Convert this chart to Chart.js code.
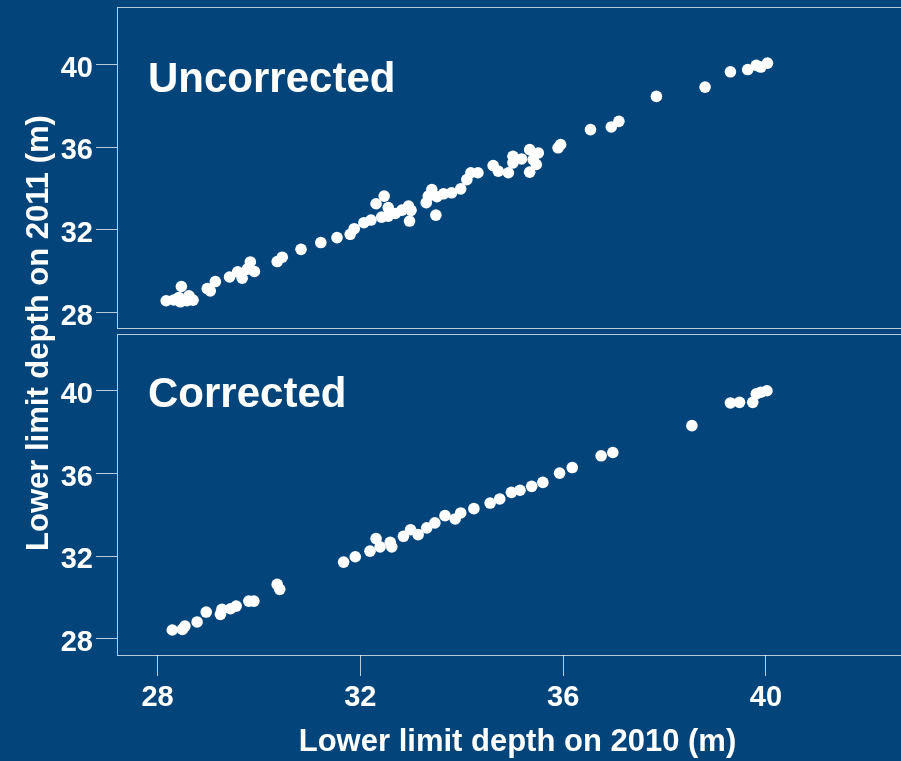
<!DOCTYPE html>
<html>
<head>
<meta charset="utf-8">
<script src="https://cdn.jsdelivr.net/npm/chart.js@4.4.1/dist/chart.umd.min.js"></script>
<style>
  html, body { margin: 0; padding: 0; background: #03457a; overflow: hidden; }
  #wrap { position: relative; width: 901px; height: 761px; overflow: hidden; }
  canvas { position: absolute; left: 0; top: 0; }
</style>
</head>
<body>
<div id="wrap">
  <canvas id="lower" width="920" height="761"></canvas>
  <canvas id="upper" width="920" height="331"></canvas>
</div>
<script>
// Lower limit depth (m), 2010 vs 2011, before and after correction
const uncorrected2010 = [28.17, 28.32, 28.42, 28.45, 28.47, 28.58, 28.62, 28.70, 28.98, 29.04,
  29.14, 29.42, 29.58, 29.67, 29.77, 29.83, 29.91, 30.36, 30.46, 30.83,
  31.22, 31.54, 31.80, 31.88, 32.07, 32.21, 32.31, 32.42, 32.47, 32.55,
  32.55, 32.69, 32.82, 32.95, 32.97, 33.00, 33.30, 33.34, 33.41, 33.49,
  33.51, 33.64, 33.80, 33.98, 34.10, 34.18, 34.32, 34.62, 34.72, 34.92,
  35.01, 35.01, 35.18, 35.34, 35.34, 35.41, 35.47, 35.51, 35.90, 35.95,
  36.54, 36.95, 37.10, 37.84, 38.80, 39.30, 39.64, 39.81, 39.90, 40.03];
const uncorrected2011 = [28.57, 28.61, 28.73, 28.52, 29.26, 28.57, 28.81, 28.60, 29.16, 29.05,
  29.50, 29.72, 29.97, 29.66, 30.10, 30.45, 29.99, 30.47, 30.68, 31.06,
  31.39, 31.63, 31.79, 32.06, 32.35, 32.48, 33.27, 32.62, 33.64, 33.08,
  32.67, 32.80, 32.96, 33.16, 32.43, 32.95, 33.32, 33.64, 33.96, 32.72,
  33.61, 33.75, 33.80, 33.99, 34.44, 34.77, 34.77, 35.12, 34.85, 34.77,
  35.25, 35.57, 35.44, 35.89, 34.80, 35.41, 35.17, 35.73, 35.98, 36.14,
  36.86, 36.99, 37.26, 38.47, 38.92, 39.66, 39.77, 39.97, 39.89, 40.08];

const corrected2010 = [28.29, 28.49, 28.54, 28.78, 28.96, 29.24, 29.27, 29.44, 29.55, 29.80,
  29.90, 30.36, 30.41, 31.67, 31.90, 32.19, 32.31, 32.39, 32.59, 32.62,
  32.85, 32.99, 33.14, 33.31, 33.47, 33.67, 33.87, 33.98, 34.24, 34.56,
  34.75, 34.98, 35.15, 35.38, 35.60, 35.93, 36.18, 36.75, 36.98, 38.54,
  39.30, 39.48, 39.74, 39.81, 39.90, 40.02];
const corrected2011 = [28.42, 28.45, 28.61, 28.81, 29.29, 29.18, 29.42, 29.45, 29.58, 29.82,
  29.82, 30.63, 30.39, 31.71, 31.97, 32.24, 32.85, 32.45, 32.67, 32.45,
  32.96, 33.28, 33.04, 33.37, 33.61, 33.96, 33.80, 34.09, 34.30, 34.57,
  34.77, 35.09, 35.19, 35.38, 35.57, 36.02, 36.29, 36.86, 37.02, 38.32,
  39.42, 39.45, 39.45, 39.86, 39.94, 40.01];

const panelNames = ['Uncorrected', 'Corrected'];
const xTicks = [28, 32, 36, 40];
const yTicks = [28, 32, 36, 40];
const xTitle = 'Lower limit depth on 2010 (m)';
const yTitle = 'Lower limit depth on 2011 (m)';

const FONT = "'Liberation Sans', Arial, sans-serif";
const LINE = 'rgba(255,255,255,0.72)';

function toPoints(xs, ys) {
  return xs.map((x, i) => ({ x: x, y: ys[i] }));
}

// Frame around the plotting area plus the panel name in its upper left
const panelPlugin = {
  id: 'panelFrame',
  beforeDatasetsDraw(chart, args, opts) {
    const { ctx, chartArea: a } = chart;
    ctx.save();
    ctx.strokeStyle = LINE;
    ctx.lineWidth = 1;
    ctx.strokeRect(a.left + 0.5, a.top + 0.5, a.right - a.left, a.bottom - a.top);
    ctx.fillStyle = '#ffffff';
    ctx.font = 'bold 42px ' + FONT;
    ctx.textAlign = 'left';
    ctx.textBaseline = 'alphabetic';
    ctx.fillText(opts.text, a.left + opts.dx, a.top + opts.dy);
    if (opts.yTitle) {
      ctx.translate(opts.yTitleX, opts.yTitleY);
      ctx.rotate(-Math.PI / 2);
      ctx.textAlign = 'center';
      ctx.textBaseline = 'middle';
      ctx.font = 'bold 31px ' + FONT;
      ctx.fillText(opts.yTitle, 0, 0);
    }
    ctx.restore();
  }
};

function yScale(min, max) {
  return {
    type: 'linear',
    min: min,
    max: max,
    afterFit(s) { s.width = 117; s.paddingTop = 0; s.paddingBottom = 0; },
    afterBuildTicks(s) { s.ticks = yTicks.map(v => ({ value: v })); },
    border: { display: false },
    grid: { drawOnChartArea: false, drawTicks: true, tickLength: 21, color: LINE, lineWidth: 1 },
    ticks: { color: '#ffffff', padding: 3, labelOffset: 4, font: { family: FONT, size: 29, weight: 'bold' } }
  };
}

function xScale(show) {
  return {
    type: 'linear',
    min: 27.2,
    max: 43,
    display: show,
    afterFit(s) {
      if (show) s.height = 106;
      s.paddingLeft = 0;
      s.paddingRight = 0;
    },
    afterBuildTicks(s) { s.ticks = xTicks.map(v => ({ value: v })); },
    border: { display: false },
    grid: { drawOnChartArea: false, drawTicks: true, tickLength: 21, color: LINE, lineWidth: 1 },
    ticks: { color: '#ffffff', padding: 5, maxRotation: 0, font: { family: FONT, size: 29, weight: 'bold' } },
    title: { display: show, text: xTitle, color: '#ffffff', padding: 0, font: { family: FONT, size: 31, weight: 'bold' } }
  };
}

function pointSet(xs, ys) {
  return {
    data: toPoints(xs, ys),
    backgroundColor: '#ffffff',
    borderWidth: 0,
    pointRadius: 5.8,
    pointHoverRadius: 5.8
  };
}

const common = {
  responsive: false,
  animation: false,
  devicePixelRatio: 1,
  events: []
};

new Chart(document.getElementById('upper'), {
  type: 'scatter',
  data: { datasets: [pointSet(uncorrected2010, uncorrected2011)] },
  options: Object.assign({}, common, {
    layout: { autoPadding: false, padding: { top: 7, bottom: 3, left: 0, right: 2 } },
    scales: { x: xScale(false), y: yScale(27.25, 42.8) },
    plugins: {
      legend: { display: false },
      tooltip: { enabled: false },
      panelFrame: { text: panelNames[0], dx: 31, dy: 85 }
    }
  }),
  plugins: [panelPlugin]
});

new Chart(document.getElementById('lower'), {
  type: 'scatter',
  data: { datasets: [pointSet(corrected2010, corrected2011)] },
  options: Object.assign({}, common, {
    layout: { autoPadding: false, padding: { top: 334, bottom: 0, left: 0, right: 2 } },
    scales: { x: xScale(true), y: yScale(27.21, 42.76) },
    plugins: {
      legend: { display: false },
      tooltip: { enabled: false },
      panelFrame: { text: panelNames[1], dx: 31, dy: 73, yTitle: yTitle, yTitleX: 39, yTitleY: 333 }
    }
  }),
  plugins: [panelPlugin]
});
</script>
</body>
</html>
